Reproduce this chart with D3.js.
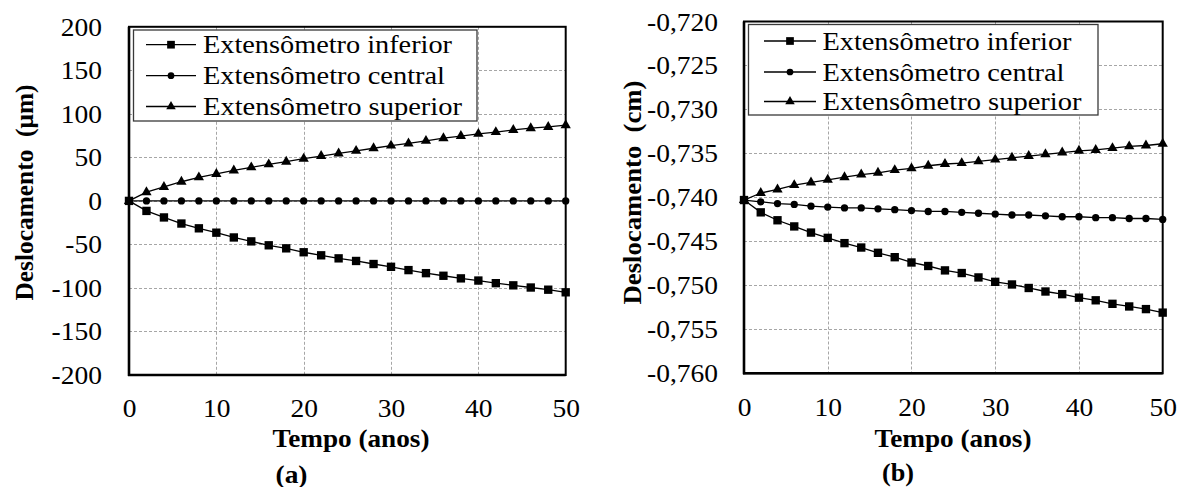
<!DOCTYPE html>
<html>
<head>
<meta charset="utf-8">
<script src="https://cdn.jsdelivr.net/npm/d3@7"></script>
<style>
  html, body { margin: 0; padding: 0; background: #fff; }
  svg { display: block; }
</style>
</head>
<body>
<svg id="chart" width="1182" height="487"></svg>
<script>
// ---- data ----
const years = [0, 2, 4, 6, 8, 10, 12, 14, 16, 18, 20, 22, 24, 26, 28, 30, 32, 34, 36, 38, 40, 42, 44, 46, 48, 50];

const seriesNames = ["Extensômetro inferior", "Extensômetro central", "Extensômetro superior"];

// (a) deslocamento em µm
const inferiorA = [0, -11.5, -19, -26, -31.5, -36.5, -42, -46.5, -51, -54.5, -59, -62.5, -66, -69, -72.5, -75.7, -79.5, -83, -86, -89, -91.5, -94.5, -97, -99.5, -102, -105];
const centralA  = [0, 0, 0, 0, 0, 0, 0, 0, 0, 0, 0, 0, 0, 0, 0, 0, 0, 0, 0, 0, 0, 0, 0, 0, 0, 0];
const superiorA = [0, 10, 16, 22, 27, 31, 35, 38.5, 42, 45, 48.5, 51.5, 54.5, 57.5, 60.5, 63.5, 66, 69, 72, 74.5, 77, 79, 81.5, 83.5, 85, 87];

// (b) deslocamento em cm
const inferiorB = [-0.7403, -0.7417, -0.7426, -0.7433, -0.7440, -0.7446, -0.7452, -0.7457, -0.7463, -0.7468, -0.7474, -0.7478, -0.7483, -0.7486, -0.7491, -0.7496, -0.7499, -0.7503, -0.7507, -0.7510, -0.7514, -0.7517, -0.7521, -0.7524, -0.7527, -0.7531];
const centralB  = [-0.7403, -0.7405, -0.7407, -0.7408, -0.7410, -0.7411, -0.7412, -0.7412, -0.7413, -0.7414, -0.7415, -0.7416, -0.7416, -0.7417, -0.7418, -0.7419, -0.7420, -0.7420, -0.7421, -0.7422, -0.7422, -0.7423, -0.7423, -0.7424, -0.7424, -0.7425];
const superiorB = [-0.7403, -0.7395, -0.7391, -0.7386, -0.7383, -0.7380, -0.7377, -0.7374, -0.7372, -0.7369, -0.7367, -0.7364, -0.7362, -0.7361, -0.7359, -0.7357, -0.7355, -0.7353, -0.7351, -0.7349, -0.7347, -0.7346, -0.7344, -0.7342, -0.7341, -0.7339];

const xTicks  = [0, 10, 20, 30, 40, 50];
const yTicksA = [-200, -150, -100, -50, 0, 50, 100, 150, 200];
const yTicksB = [-0.760, -0.755, -0.750, -0.745, -0.740, -0.735, -0.730, -0.725, -0.720];

const xLabel = "Tempo (anos)";
const yLabelA = "Deslocamento\u00A0\u00A0(μm)";
const yLabelB = "Deslocamento\u00A0\u00A0(cm)";

// ---- drawing ----
const svg = d3.select("#chart");
svg.append("rect").attr("width", 1182).attr("height", 487).attr("fill", "#fff");

const FONT = "'Liberation Serif', 'Times New Roman', serif";
const symbolTypes = [d3.symbolSquare, d3.symbolCircle, d3.symbolTriangle];
const symbolSizes = [70, 42, 46];

function stretch(sel, factor) {
  sel.each(function () {
    const len = this.getComputedTextLength();
    d3.select(this).attr("textLength", len * factor).attr("lengthAdjust", "spacingAndGlyphs");
  });
}
function fitTo(sel, width) {
  sel.attr("textLength", width).attr("lengthAdjust", "spacingAndGlyphs");
}

function drawPanel(cfg) {
  const g = svg.append("g");
  const x = d3.scaleLinear().domain([0, 50]).range([cfg.left, cfg.right]);
  const y = d3.scaleLinear().domain(cfg.yDomain).range([cfg.bottom, cfg.top]);

  // gridlines
  const grid = g.append("g").attr("stroke", "#a6a6a6").attr("stroke-width", 1).attr("stroke-dasharray", "3,2");
  grid.selectAll("line.v").data(cfg.xTicks.slice(1, -1)).join("line")
    .attr("x1", d => Math.round(x(d)) + 0.5).attr("x2", d => Math.round(x(d)) + 0.5)
    .attr("y1", cfg.top).attr("y2", cfg.bottom);
  grid.selectAll("line.h").data(cfg.yTicks.slice(1, -1)).join("line")
    .attr("y1", d => Math.round(y(d)) + 0.5).attr("y2", d => Math.round(y(d)) + 0.5)
    .attr("x1", cfg.left).attr("x2", cfg.right);

  // frame
  g.append("rect")
    .attr("x", cfg.left).attr("y", cfg.top)
    .attr("width", cfg.right - cfg.left).attr("height", cfg.bottom - cfg.top)
    .attr("fill", "none").attr("stroke", "#000").attr("stroke-width", 2);
  g.append("line").attr("x1", cfg.left).attr("x2", cfg.left).attr("y1", cfg.top).attr("y2", cfg.bottom + 1)
    .attr("stroke", "#000").attr("stroke-width", 2.6);
  g.append("line").attr("x1", cfg.left - 1).attr("x2", cfg.right).attr("y1", cfg.bottom).attr("y2", cfg.bottom)
    .attr("stroke", "#000").attr("stroke-width", 2.6);

  // axes
  const yAxis = d3.axisLeft(y).tickValues(cfg.yTicks).tickSize(0).tickPadding(cfg.yPad).tickFormat(cfg.yFormat);
  const ya = g.append("g").attr("transform", `translate(${cfg.left},0)`).call(yAxis);
  ya.select(".domain").remove();
  ya.selectAll("text").attr("font-family", FONT).attr("font-size", 25).attr("fill", "#000").attr("dy", "0.34em");
  stretch(ya.selectAll("text"), 1.1);

  const xAxis = d3.axisBottom(x).tickValues(cfg.xTicks).tickSize(0).tickPadding(0).tickFormat(d => String(d));
  const xa = g.append("g").attr("transform", `translate(0,${cfg.bottom})`).call(xAxis);
  xa.select(".domain").remove();
  xa.selectAll("text").attr("font-family", FONT).attr("font-size", 25).attr("fill", "#000").attr("y", cfg.xTickY).attr("dy", 0);
  stretch(xa.selectAll("text"), 1.1);

  // series
  const line = d3.line().x((d, i) => x(years[i])).y(d => y(d));
  cfg.series.forEach((vals, k) => {
    g.append("path").datum(vals).attr("d", line)
      .attr("fill", "none").attr("stroke", "#000").attr("stroke-width", 1.3);
    g.append("g").selectAll("path").data(vals).join("path")
      .attr("transform", (d, i) => `translate(${x(years[i])},${y(d)})`)
      .attr("d", d3.symbol().type(symbolTypes[k]).size(symbolSizes[k]))
      .attr("fill", "#000");
  });

  // legend
  const L = cfg.legend;
  g.append("rect").attr("x", L.x0).attr("y", L.y0).attr("width", L.x1 - L.x0).attr("height", L.y1 - L.y0)
    .attr("fill", "#fff").attr("stroke", "#3a3a3a").attr("stroke-width", 1.3);
  seriesNames.forEach((name, k) => {
    const ly = L.rowY[k];
    g.append("line").attr("x1", L.lineX0).attr("x2", L.lineX1).attr("y1", ly).attr("y2", ly)
      .attr("stroke", "#000").attr("stroke-width", 1.3);
    g.append("path").attr("transform", `translate(${(L.lineX0 + L.lineX1) / 2},${ly})`)
      .attr("d", d3.symbol().type(symbolTypes[k]).size(symbolSizes[k] * 0.85)).attr("fill", "#000");
    const t = g.append("text").attr("x", L.textX).attr("y", ly + 8.5).text(name)
      .attr("font-family", FONT).attr("font-size", 25).attr("fill", "#000");
    fitTo(t, L.textW[k]);
  });

  // axis titles
  const xt = g.append("text").attr("x", cfg.xTitleX).attr("y", cfg.xTitleY).attr("text-anchor", "middle")
    .attr("font-family", FONT).attr("font-weight", "bold").attr("font-size", 26).attr("fill", "#000")
    .text(xLabel);
  fitTo(xt, 157);
  const yt = g.append("text").attr("transform", `translate(${cfg.yTitleX},${cfg.yTitleY}) rotate(-90)`)
    .attr("text-anchor", "middle")
    .attr("font-family", FONT).attr("font-weight", "bold").attr("font-size", 26).attr("fill", "#000")
    .text(cfg.yLabel);
  fitTo(yt, cfg.yTitleW);
  const tg = g.append("text").attr("x", cfg.tagX).attr("y", cfg.tagY).attr("text-anchor", "middle")
    .attr("font-family", FONT).attr("font-weight", "bold").attr("font-size", 25).attr("fill", "#000")
    .text(cfg.tag);
  fitTo(tg, 32);
}

drawPanel({
  left: 129, right: 565.7, top: 26.8, bottom: 375,
  yDomain: [-200, 200], yTicks: yTicksA, xTicks: xTicks,
  yFormat: d => String(d), yPad: 27, xTickY: 41.5,
  series: [inferiorA, centralA, superiorA],
  legend: { x0: 133.5, x1: 477, y0: 30, y1: 121, rowY: [44.7, 75.7, 106.5], lineX0: 146, lineX1: 196, textX: 203, textW: [249, 242, 259] },
  xTitleX: 351, xTitleY: 447, yTitleX: 33, yTitleY: 192.5, yTitleW: 216, yLabel: yLabelA,
  tagX: 291.5, tagY: 483, tag: "(a)"
});

drawPanel({
  left: 744, right: 1162.7, top: 21.5, bottom: 373.3,
  yDomain: [-0.760, -0.720], yTicks: yTicksB, xTicks: xTicks,
  yFormat: d => d.toFixed(3).replace(".", ","), yPad: 26, xTickY: 42.7,
  series: [inferiorB, centralB, superiorB],
  legend: { x0: 748.5, x1: 1098, y0: 24.5, y1: 115, rowY: [41, 72, 101.5], lineX0: 764, lineX1: 816, textX: 822.5, textW: [249, 242, 259] },
  xTitleX: 953, xTitleY: 446.5, yTitleX: 641, yTitleY: 192.5, yTitleW: 224, yLabel: yLabelB,
  tagX: 898, tagY: 481, tag: "(b)"
});
</script>
</body>
</html>
